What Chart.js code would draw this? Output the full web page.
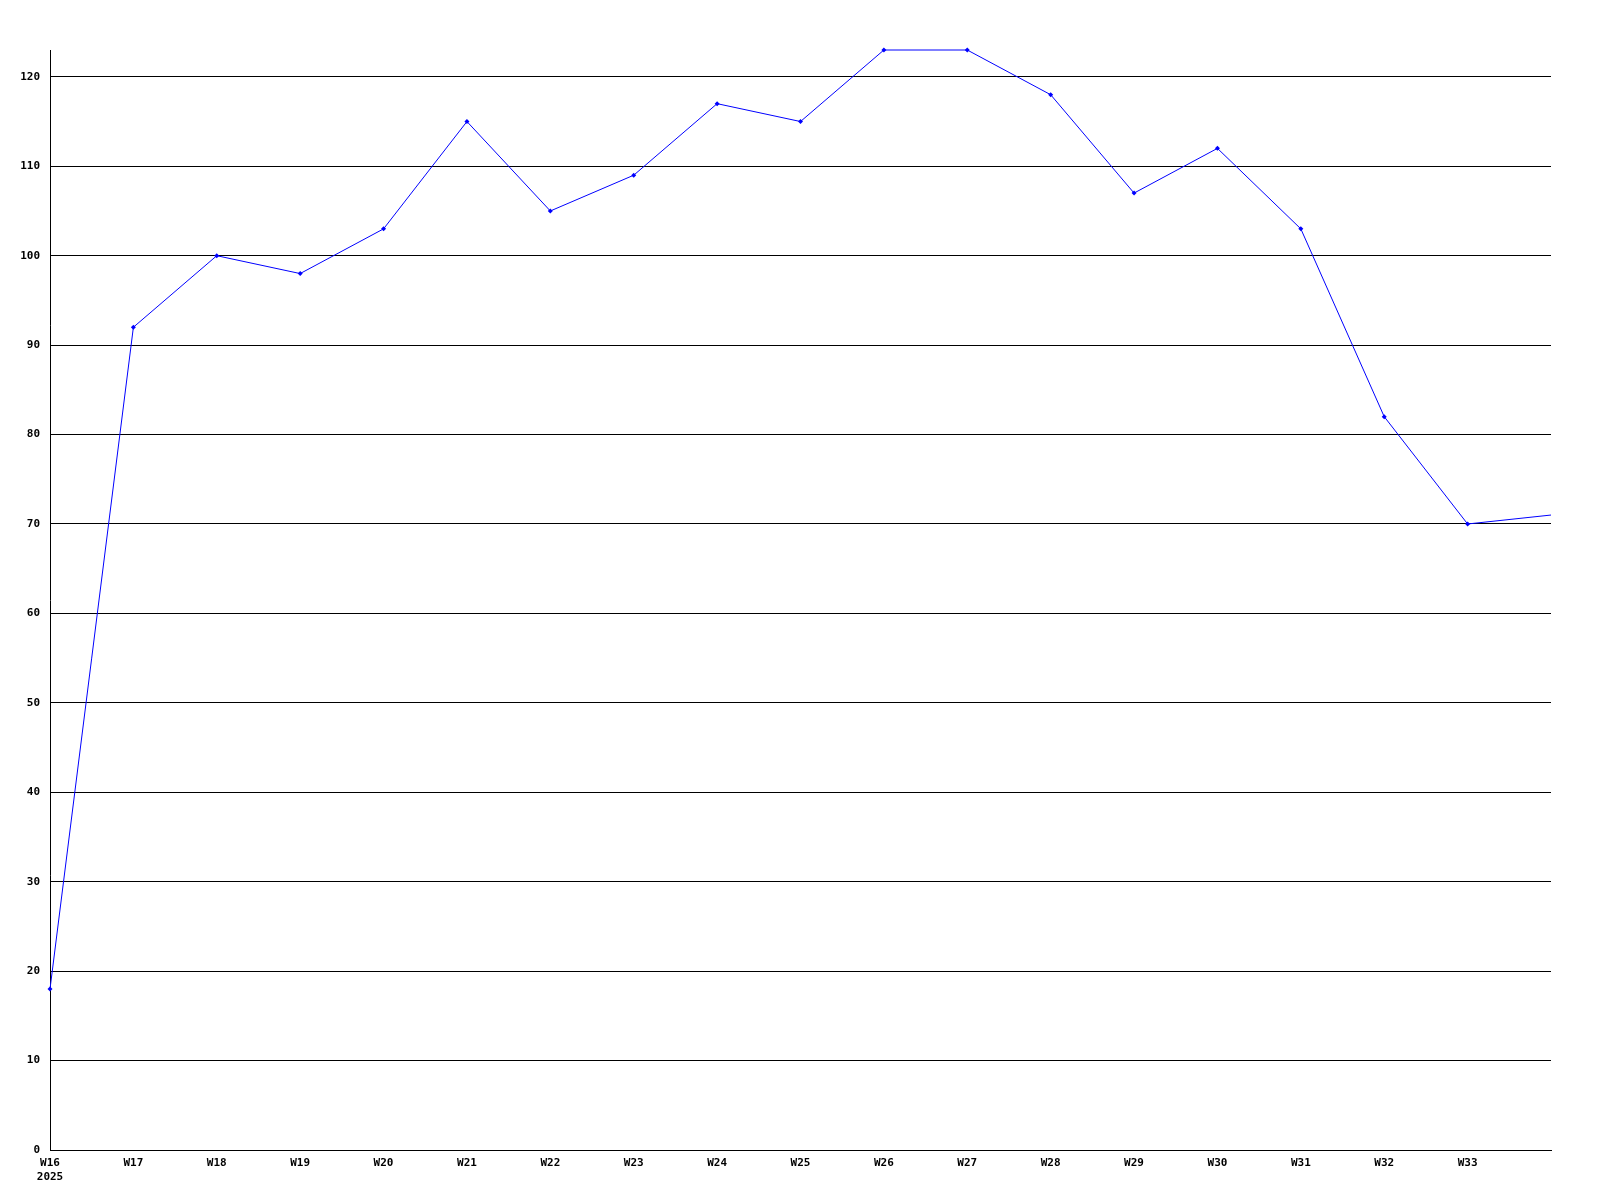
<!DOCTYPE html>
<html>
<head>
<meta charset="utf-8">
<script src="https://cdn.jsdelivr.net/npm/chart.js@4"></script>
<style>
  html, body { margin: 0; padding: 0; background: #fff; }
  #wrap { width: 1600px; height: 1200px; }
</style>
</head>
<body>
<div id="wrap"><canvas id="line-graph" width="1600" height="1200"></canvas></div>
<script>
// weekly counts
const weeks = ['W16', 'W17', 'W18', 'W19', 'W20', 'W21', 'W22', 'W23', 'W24', 'W25',
  'W26', 'W27', 'W28', 'W29', 'W30', 'W31', 'W32', 'W33', 'W34']
const firstYear = '2025'
const counts = [18, 92, 100, 98, 103, 115, 105, 109, 117, 115, 123, 123, 118, 107, 112, 103, 82, 70, 71]
const yMax = 123
const yStep = 10

const tickFont = { family: 'DejaVu Sans Mono', size: 11, weight: 'bold' }

let ctx = document.getElementById('line-graph')
let data = {
  labels: weeks,
  datasets: [{
    data: counts,
    fill: false,
    tension: 0,
    clip: false,
    borderColor: '#0000ff',
    borderWidth: 1,
    backgroundColor: '#0000ff',
    pointStyle: 'rectRot',
    // last week sits on the right edge, drawn without a marker
    pointRadius: counts.map((_, i) => i === counts.length - 1 ? 0 : 2.5),
    pointBorderWidth: 0,
    pointBackgroundColor: '#0000ff'
  }]
}

let myLineGraph = new Chart(ctx, {
  type: 'line',
  data: data,
  options: {
    responsive: false,
    animation: false,
    layout: { padding: { top: 50, right: 49, bottom: 0, left: 0 } },
    plugins: { legend: { display: false }, tooltip: { enabled: false } },
    scales: {
      x: {
        offset: false,
        grid: { display: false, drawTicks: false },
        border: { display: true, color: '#000', width: 1 },
        afterFit: (scale) => { scale.height = 50 },
        ticks: {
          color: '#000',
          font: tickFont,
          padding: 7,
          autoSkip: false,
          maxRotation: 0,
          callback: function (val, i) {
            if (i === weeks.length - 1) return ''
            if (i === 0) return [weeks[0], firstYear]
            return weeks[i]
          }
        }
      },
      y: {
        min: 0,
        max: yMax,
        grid: { color: '#000', lineWidth: 1, drawTicks: false },
        border: { display: true, color: '#000', width: 1 },
        afterFit: (scale) => { scale.width = 50 },
        afterBuildTicks: (scale) => {
          scale.ticks = scale.ticks.filter(t => t.value % yStep === 0)
        },
        ticks: {
          stepSize: yStep,
          color: '#000',
          font: tickFont,
          padding: 10
        }
      }
    }
  }
})
</script>
</body>
</html>
